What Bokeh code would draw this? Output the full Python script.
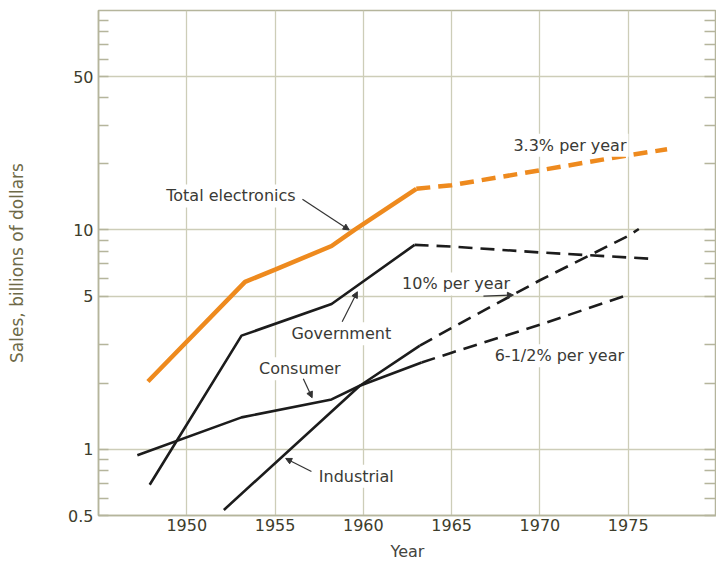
from bokeh.plotting import figure
from bokeh.models import (Range1d, FixedTicker, NumeralTickFormatter, LogAxis,
                          Label, Arrow, NormalHead)
from bokeh.embed import file_html
from bokeh.resources import INLINE

# ---- data ----
x_ticks = [1950, 1955, 1960, 1965, 1970, 1975]
y_ticks = [0.5, 1, 5, 10, 50]
y_minor = [0.6, 0.7, 0.8, 0.9, 2, 3, 6, 7, 8, 9, 20, 30, 40, 60, 70, 80, 90]
y_grid = [1, 5, 10, 50]

total_years = [1947.8, 1953.3, 1955.0, 1958.2, 1959.5, 1963.0]
total_vals = [2.04, 5.8, 6.6, 8.45, 10.0, 15.4]
total_proj_years = [1963.0, 1965.0, 1970.0, 1975.0, 1977.2]
total_proj_vals = [15.4, 16.0, 18.7, 21.9, 23.3]

gov_years = [1947.9, 1953.1, 1958.2, 1962.9]
gov_vals = [0.69, 3.3, 4.6, 8.55]
gov_proj_years = [1962.9, 1965.0, 1970.0, 1976.2]
gov_proj_vals = [8.55, 8.4, 7.9, 7.4]

con_years = [1947.2, 1953.1, 1958.2, 1959.8, 1963.3]
con_vals = [0.94, 1.40, 1.69, 1.95, 2.49]
con_proj_years = [1963.3, 1965.0, 1970.0, 1975.0]
con_proj_vals = [2.49, 2.76, 3.7, 5.07]

ind_years = [1952.1, 1959.8, 1963.2]
ind_vals = [0.53, 1.95, 2.97]
ind_proj_years = [1963.2, 1965.0, 1970.0, 1975.0, 1975.6]
ind_proj_vals = [2.97, 3.58, 5.9, 9.4, 10.1]

# ---- styles ----
ORANGE = "#EE8A1E"
BLACK = "#1c1c1c"
GRID = "#cdcdb8"
AXIS = "#b5b59c"
TICK_TXT = "#3d3d2c"
AX_LBL = "#6e6a48"
ANN_TXT = "#3a3a36"
FONT = "DejaVu Sans"

p = figure(width=716, height=563, y_axis_type="log",
           x_range=Range1d(1945, 1980), y_range=Range1d(0.5, 100),
           output_backend="svg", toolbar_location=None,
           min_border_left=98, min_border_right=0, min_border_top=10,
           min_border_bottom=48)
p.background_fill_color = "white"
p.border_fill_color = "white"
p.outline_line_color = AXIS
p.outline_line_width = 1.5

# x axis
xa = p.xaxis[0]
xa.ticker = FixedTicker(ticks=x_ticks)
xa.major_tick_in = 0
xa.major_tick_out = 0
xa.minor_tick_in = 0
xa.minor_tick_out = 0
xa.axis_line_color = AXIS
xa.axis_line_width = 1.5
xa.major_label_text_font = FONT
xa.major_label_text_font_size = "16px"
xa.major_label_text_color = TICK_TXT
xa.major_label_standoff = 3
xa.axis_label = "Year"
xa.axis_label_text_font = FONT
xa.axis_label_text_font_style = "normal"
xa.axis_label_text_font_size = "16px"
xa.axis_label_text_color = "#444440"
xa.axis_label_standoff = 8

# y axis
ya = p.yaxis[0]
ya.ticker = FixedTicker(ticks=y_ticks, minor_ticks=y_minor)
ya.formatter = NumeralTickFormatter(format="0.[0]")
ya.major_tick_in = 10
ya.major_tick_out = 0
ya.minor_tick_in = 10
ya.minor_tick_out = 0
ya.major_tick_line_color = AXIS
ya.minor_tick_line_color = AXIS
ya.major_tick_line_width = 1.3
ya.minor_tick_line_width = 1.3
ya.axis_line_color = AXIS
ya.axis_line_width = 1.5
ya.major_label_text_font = FONT
ya.major_label_text_font_size = "16px"
ya.major_label_text_color = TICK_TXT
ya.major_label_standoff = 5
ya.axis_label = "Sales, billions of dollars"
ya.axis_label_text_font = FONT
ya.axis_label_text_font_style = "normal"
ya.axis_label_text_font_size = "17px"
ya.axis_label_text_color = AX_LBL
ya.axis_label_standoff = 38

ra = LogAxis(ticker=FixedTicker(ticks=[], minor_ticks=y_minor + y_ticks),
             major_tick_in=12, major_tick_out=0, minor_tick_in=12, minor_tick_out=0,
             major_tick_line_color=AXIS, minor_tick_line_color=AXIS,
             major_tick_line_width=1.3, minor_tick_line_width=1.3,
             axis_line_color=AXIS, axis_line_width=1.5)
p.add_layout(ra, "right")

p.xgrid.ticker = FixedTicker(ticks=x_ticks)
p.ygrid.ticker = FixedTicker(ticks=y_grid)
p.xgrid.grid_line_color = GRID
p.ygrid.grid_line_color = GRID
p.xgrid.grid_line_width = 1.3
p.ygrid.grid_line_width = 1.3

# ---- annotations (text boxes behind lines are white) ----
def lbl(x, y, t):
    p.add_layout(Label(x=x, y=y, text=t, text_align="center", text_baseline="middle",
                       text_font=FONT, text_font_size="16px", text_color=ANN_TXT,
                       background_fill_color="white", padding=2))

lbl(1952.5, 14.3, "Total electronics")
lbl(1958.75, 3.37, "Government")
lbl(1956.4, 2.33, "Consumer")
lbl(1959.6, 0.754, "Industrial")
lbl(1971.7, 24.3, "3.3% per year")
lbl(1965.25, 5.68, "10% per year")
lbl(1971.1, 2.67, "6-1/2% per year")

# ---- lines ----
p.line(total_years, total_vals, line_color=ORANGE, line_width=4.5)
p.line(total_proj_years, total_proj_vals, line_color=ORANGE, line_width=4.5,
       line_dash="14 8")

p.line(gov_years, gov_vals, line_color=BLACK, line_width=2.6)
p.line(gov_proj_years, gov_proj_vals, line_color=BLACK, line_width=2.6, line_dash="14 8")

p.line(con_years, con_vals, line_color=BLACK, line_width=2.6)
p.line(con_proj_years, con_proj_vals, line_color=BLACK, line_width=2.6, line_dash="14 8")

p.line(ind_years, ind_vals, line_color=BLACK, line_width=2.6)
p.line(ind_proj_years, ind_proj_vals, line_color=BLACK, line_width=2.6, line_dash="14 8")

# ---- leader arrows ----
def arr(x0, y0, x1, y1):
    p.add_layout(Arrow(end=NormalHead(size=6, fill_color="#333333", line_color="#333333"),
                       x_start=x0, y_start=y0, x_end=x1, y_end=y1,
                       line_color="#333333", line_width=1.2))

arr(1956.55, 13.8, 1959.2, 10.0)
arr(1958.8, 3.82, 1959.66, 5.23)
arr(1956.6, 2.10, 1957.1, 1.72)
arr(1957.06, 0.794, 1955.6, 0.91)
arr(1966.8, 5.0, 1968.5, 5.05)

open("out.html", "w").write(file_html(p, INLINE))
